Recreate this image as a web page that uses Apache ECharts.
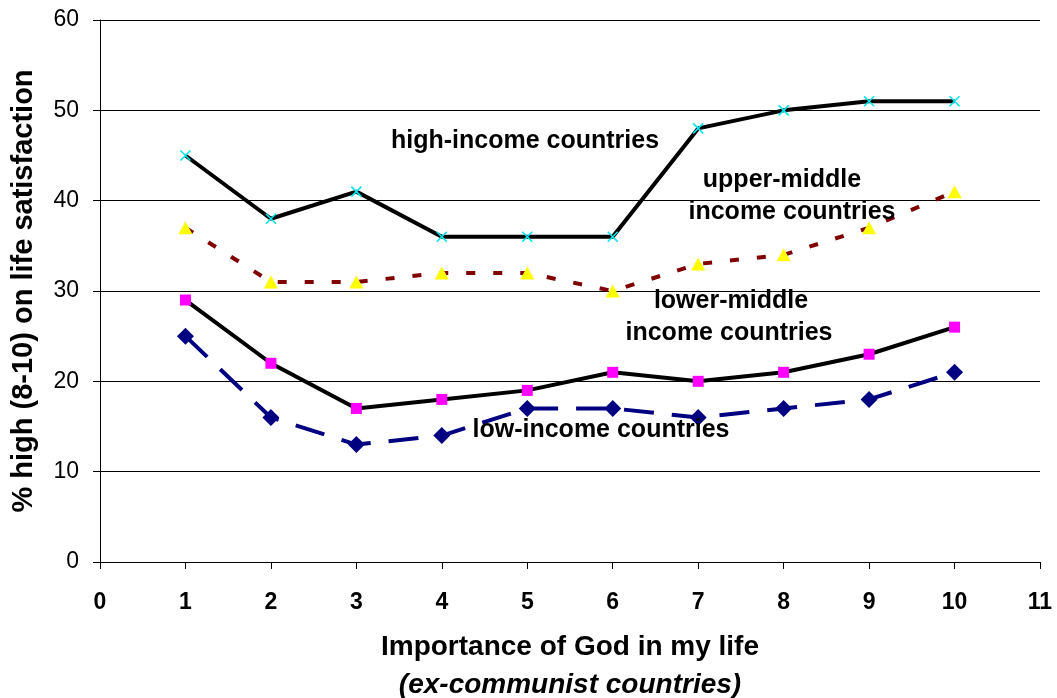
<!DOCTYPE html>
<html>
<head>
<meta charset="utf-8">
<script src="https://cdn.jsdelivr.net/npm/echarts@6/dist/echarts.min.js"></script>
<style>
  html, body { margin: 0; padding: 0; background: #fff; }
  #chart { width: 1057px; height: 698px; }
</style>
</head>
<body>
<div id="chart"></div>
<script>
// Importance of God (1-10) vs share reporting high life satisfaction
const godScale = [1, 2, 3, 4, 5, 6, 7, 8, 9, 10];
const highIncome = [45, 38, 41, 36, 36, 36, 48, 50, 51, 51];
const upperMiddle = [37, 31, 31, 32, 32, 30, 33, 34, 37, 41];
const lowerMiddle = [29, 22, 17, 18, 19, 21, 20, 21, 23, 26];
const lowIncome = [25, 16, 13, 14, 17, 17, 16, 17, 18, 21];

const pairs = vals => godScale.map((x, i) => [x, vals[i]]);
const font = '"Liberation Sans", Arial, sans-serif';

const chart = echarts.init(document.getElementById('chart'));

// Series captions placed inside the plot area
const caption = (text, x, y) => ({
  type: 'text', x: x, y: y, z: 10,
  style: {
    text: text, font: 'bold 25px ' + font, fill: '#000',
    textAlign: 'center', textVerticalAlign: 'middle'
  }
});

chart.setOption({
  animation: false,
  grid: { left: 100, right: 17, top: 20, bottom: 136, outerBoundsMode: 'none' },
  xAxis: {
    type: 'value', min: 0, max: 11, interval: 1,
    axisLine: { show: true, lineStyle: { color: '#000', width: 1 } },
    axisTick: { show: true, length: 7, lineStyle: { color: '#000' } },
    splitLine: { show: false },
    axisLabel: { color: '#000', fontFamily: font, fontSize: 23, fontWeight: 'bold', margin: 29 },
    name: '{a|Importance of God in my life}\n{b|(ex-communist countries)}',
    nameLocation: 'middle', nameGap: 66,
    nameTextStyle: {
      rich: {
        a: { fontFamily: font, fontSize: 28, fontWeight: 'bold', color: '#000', lineHeight: 38 },
        b: { fontFamily: font, fontSize: 28, fontWeight: 'bold', fontStyle: 'italic', color: '#000', lineHeight: 38 }
      }
    }
  },
  yAxis: {
    type: 'value', min: 0, max: 60, interval: 10,
    axisLine: { show: true, lineStyle: { color: '#000', width: 1 } },
    axisTick: { show: true, length: 7, lineStyle: { color: '#000' } },
    splitLine: { show: true, lineStyle: { color: '#000', width: 1 } },
    axisLabel: { color: '#000', fontFamily: font, fontSize: 23, margin: 21 },
    name: '% high (8-10) on life satisfaction',
    nameLocation: 'middle', nameGap: 62,
    nameTextStyle: { fontFamily: font, fontSize: 29, fontWeight: 'bold', color: '#000' }
  },
  series: [
    {
      type: 'line', data: pairs(highIncome),
      symbol: 'path://M0,0L10,10M10,0L0,10', symbolSize: 10,
      itemStyle: { color: '#00ffff', borderColor: '#00e5ee', borderWidth: 1.6 },
      lineStyle: { color: '#000', width: 4 }, z: 3
    },
    {
      type: 'line', data: pairs(upperMiddle),
      symbol: 'triangle', symbolSize: [14, 13],
      itemStyle: { color: '#ffff00', borderWidth: 0 },
      lineStyle: { color: '#800000', width: 4, type: [9, 18] }, z: 2
    },
    {
      type: 'line', data: pairs(lowerMiddle),
      symbol: 'rect', symbolSize: 11,
      itemStyle: { color: '#ff00ff', borderWidth: 0 },
      lineStyle: { color: '#000', width: 4 }, z: 3
    },
    {
      type: 'line', data: pairs(lowIncome),
      symbol: 'diamond', symbolSize: [17, 17],
      itemStyle: { color: '#000080', borderWidth: 0 },
      lineStyle: { color: '#000080', width: 4, type: [30, 18] }, z: 2
    }
  ],
  graphic: [
    caption('high-income countries', 525, 141),
    caption('upper-middle', 782, 180),
    caption('income countries', 792, 212),
    caption('lower-middle', 731, 301),
    caption('income countries', 729, 333),
    caption('low-income countries', 601, 430)
  ]
});
</script>
</body>
</html>
